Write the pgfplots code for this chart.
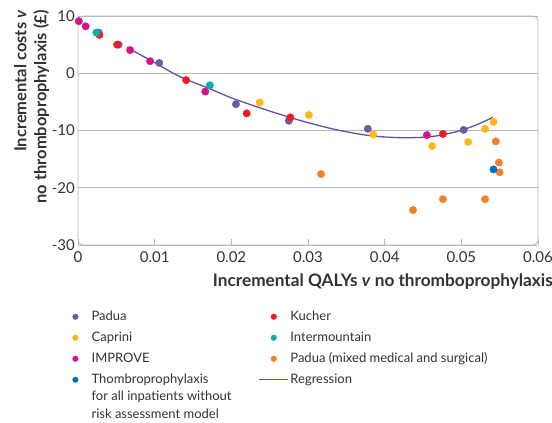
\documentclass[border=0pt]{standalone}
\usepackage{pgfplots}
\pgfplotsset{compat=1.18}
\usepackage{fontspec}
\setmainfont{Lato}

\definecolor{padua}{RGB}{106,90,168}
\definecolor{caprini}{RGB}{253,184,19}
\definecolor{improve}{RGB}{214,18,139}
\definecolor{thombro}{RGB}{0,114,188}
\definecolor{kucher}{RGB}{237,28,36}
\definecolor{intermtn}{RGB}{0,178,168}
\definecolor{paduamix}{RGB}{245,128,37}
\definecolor{regr}{RGB}{98,82,165}
\definecolor{frame}{RGB}{185,185,185}
\definecolor{txt}{RGB}{50,50,50}

\newcommand{\colone}[1]{\makebox[167pt][l]{#1}}

\begin{document}
\begin{tikzpicture}
\begin{axis}[
    scale only axis,
    width=460pt, height=229pt,
    xmin=0, xmax=0.06,
    ymin=-30, ymax=10,
    xtick={0,0.01,0.02,0.03,0.04,0.05,0.06},
    xticklabels={0,0.01,0.02,0.03,0.04,0.05,0.06},
    scaled x ticks=false,
    ytick={-30,-20,-10,0,10},
    /pgf/number format/assume math mode=true,
    ticklabel style={font=\fontsize{15}{17}\selectfont, text=txt},
    xticklabel style={anchor=center, yshift=-12pt},
    yticklabel style={anchor=east, inner sep=0pt, xshift=-3pt},
    tick align=inside,
    xtick pos=bottom,
    major tick length=6pt,
    x tick style={draw=frame, line width=0.8pt},
    y tick style={draw=none},
    ymajorgrids,
    grid style={draw=frame, line width=0.8pt},
    axis line style={draw=none},
    clip=false,
    legend columns=2,
    legend style={at={(-0.038,-0.284)}, anchor=north west, draw=none, fill=none,
        inner sep=0pt, row sep=8pt,
        nodes={font=\fontsize{13}{15}\selectfont, text=txt, inner sep=0pt,
               text height=10pt, text depth=3pt},
        cells={anchor=west},
        /tikz/every even column/.append style={column sep=0pt},
        /tikz/every odd column/.append style={column sep=1.5pt}},
    legend image code/.code={\path (0pt,0pt) (29pt,0pt); \fill (14.5pt,0pt) circle (2.8pt);},
    dot/.style={only marks, mark=*, mark size=3.7pt, mark options={draw=none}},
]
\draw[frame, line width=0.8pt, rounded corners=5pt] (rel axis cs:0,0) rectangle (rel axis cs:1,1);

% Padua
\addplot[dot, padua, fill=padua] coordinates {
 (0.0027,7.1) (0.0053,5.0) (0.0106,1.8) (0.0206,-5.4) (0.0275,-8.3)
 (0.0378,-9.7) (0.0503,-9.9)
};
\addlegendentry{\colone{Padua}}
% Kucher
\addplot[dot, kucher, fill=kucher] coordinates {
 (0.0028,6.7) (0.0051,5.0) (0.0141,-1.2) (0.0220,-7.0) (0.0277,-7.7) (0.0476,-10.6)
};
\addlegendentry{Kucher}
% Caprini
\addplot[dot, caprini, fill=caprini] coordinates {
 (0.0237,-5.1) (0.0301,-7.3) (0.0385,-10.7) (0.0462,-12.7) (0.0509,-12.0)
 (0.0531,-9.7) (0.0542,-8.5)
};
\addlegendentry{\colone{Caprini}}
% Intermountain
\addplot[dot, intermtn, fill=intermtn] coordinates {
 (0.0024,7.1) (0.0172,-2.1)
};
\addlegendentry{Intermountain}
% IMPROVE
\addplot[dot, improve, fill=improve] coordinates {
 (0.0001,9.1) (0.0010,8.2) (0.0068,4.05) (0.0094,2.1) (0.0166,-3.2) (0.0455,-10.8)
};
\addlegendentry{\colone{IMPROVE}}
% Padua mixed
\addplot[dot, paduamix, fill=paduamix] coordinates {
 (0.0317,-17.6) (0.0437,-23.9) (0.0476,-22.0) (0.0531,-22.0) (0.0545,-11.9)
 (0.0549,-15.6) (0.0550,-17.3)
};
\addlegendentry{Padua (mixed medical and surgical)}
% Thromboprophylaxis for all
\addplot[dot, thombro, fill=thombro] coordinates {
 (0.0542,-16.8)
};
\addlegendentry{\parbox[t]{167pt}{\fontsize{13}{17.5}\selectfont Thombroprophylaxis\\for all inpatients without\\risk assessment model}}
% Regression
\addplot[regr, line width=1.3pt, smooth, no marks,
  legend image code/.code={\draw[regr, line width=1.3pt] (0pt,0pt) -- (29pt,0pt);}]
 coordinates {
 (0.0064,4.5) (0.0094,2.3) (0.0133,-0.6) (0.0172,-2.7) (0.0202,-4.4)
 (0.0250,-6.6) (0.0294,-8.4) (0.0338,-9.9) (0.0381,-10.9) (0.0420,-11.25)
 (0.0459,-11.1) (0.0494,-10.2) (0.0520,-9.0) (0.0541,-7.7)
};
\addlegendentry{Regression}

\coordinate (bl) at (rel axis cs:0,0);
\coordinate (tr) at (rel axis cs:1,1);
\coordinate (br) at (rel axis cs:1,0);
\coordinate (tl) at (rel axis cs:0,1);
\end{axis}
\node[rotate=90, anchor=north east, align=right, inner sep=0pt,
      font=\bfseries\fontsize{16.5}{20}\selectfont, text=txt]
  at ([xshift=-64pt,yshift=6pt]tl)
  {Incremental costs \textit{v}\\no thromboprophylaxis (£)};
\node[anchor=east, inner sep=0pt, font=\bfseries\fontsize{17.2}{20}\selectfont, text=txt]
  at ([xshift=15pt,yshift=-37pt]br)
  {Incremental QALYs \textit{v} no thromboprophylaxis};
\pgfresetboundingbox
\path[use as bounding box] ([shift={(-78pt,-178pt)}]bl) rectangle ([shift={(14pt,16pt)}]tr);
\end{tikzpicture}
\end{document}
